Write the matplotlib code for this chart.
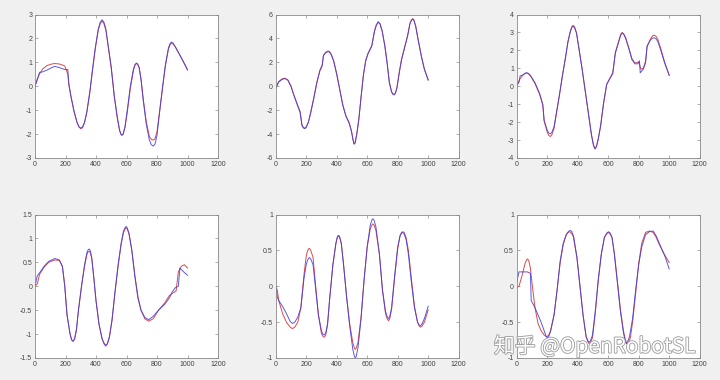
import matplotlib.pyplot as plt
import matplotlib.patheffects as pe

# ---- data (x, y pairs per series; r = red, b = blue) ----
x1 = [0, 15, 30, 50, 80, 110, 130, 160, 195, 215, 222, 235, 255, 275, 288, 300, 312, 325, 340, 360, 375, 395, 415, 428, 440, 452, 465, 480, 500, 520, 540, 555, 563, 570, 578, 590, 605, 625, 645, 655, 665, 673, 683, 695, 710, 730, 750, 762, 775, 787, 800, 815, 835, 855, 875, 885, 895, 905, 920, 950, 975, 1000]
y1b = [0, 0.3, 0.58, 0.6, 0.68, 0.78, 0.83, 0.78, 0.7, 0.7, 0.1, -0.4, -1.0, -1.5, -1.69, -1.75, -1.7, -1.5, -1.05, -0.2, 0.6, 1.6, 2.4, 2.68, 2.78, 2.68, 2.38, 1.7, 0.8, -0.4, -1.3, -1.85, -2.0, -2.05, -2.0, -1.7, -1.0, 0.0, 0.7, 0.9, 0.97, 0.93, 0.78, 0.3, -0.6, -1.6, -2.25, -2.44, -2.5, -2.42, -2.05, -1.2, -0.1, 0.9, 1.6, 1.78, 1.85, 1.8, 1.65, 1.3, 1.0, 0.68]
y1r = [0, 0.28, 0.52, 0.72, 0.87, 0.93, 0.95, 0.93, 0.85, 0.5, 0.05, -0.4, -1.05, -1.5, -1.7, -1.78, -1.73, -1.52, -1.1, -0.25, 0.55, 1.55, 2.35, 2.62, 2.72, 2.62, 2.33, 1.65, 0.75, -0.45, -1.35, -1.85, -2.0, -2.05, -2.0, -1.72, -1.1, -0.1, 0.65, 0.87, 0.95, 0.92, 0.78, 0.3, -0.55, -1.5, -2.1, -2.22, -2.25, -2.2, -1.9, -1.15, -0.15, 0.85, 1.55, 1.73, 1.8, 1.77, 1.65, 1.3, 1.0, 0.7]

x2 = [0, 20, 40, 60, 80, 100, 120, 140, 160, 172, 182, 192, 202, 215, 230, 250, 270, 290, 305, 313, 325, 335, 344, 353, 365, 380, 400, 420, 440, 460, 482, 497, 507, 514, 521, 532, 545, 560, 575, 590, 605, 630, 648, 660, 672, 684, 698, 715, 730, 745, 760, 770, 777, 785, 795, 810, 825, 845, 865, 880, 890, 898, 906, 918, 935, 955, 975, 1000]
y2b = [-0.2, 0.35, 0.55, 0.65, 0.5, 0.0, -0.8, -1.5, -2.2, -3.3, -3.5, -3.55, -3.4, -3.0, -2.2, -1.0, 0.3, 1.3, 1.7, 2.6, 2.75, 2.85, 2.9, 2.85, 2.6, 2.1, 1.0, -0.3, -1.6, -2.5, -3.1, -3.8, -4.5, -4.85, -4.75, -4.0, -2.8, -0.9, 0.9, 2.1, 2.7, 3.35, 4.6, 5.1, 5.35, 5.2, 4.6, 3.4, 2.0, 0.3, -0.5, -0.7, -0.72, -0.6, -0.15, 1.1, 2.2, 3.2, 4.2, 5.2, 5.5, 5.62, 5.52, 5.0, 3.8, 2.5, 1.4, 0.5]
y2r = [-0.1, 0.4, 0.6, 0.68, 0.52, 0.02, -0.75, -1.45, -2.1, -3.2, -3.45, -3.5, -3.35, -2.95, -2.15, -0.95, 0.35, 1.35, 1.8, 2.55, 2.8, 2.9, 2.95, 2.9, 2.65, 2.15, 1.05, -0.25, -1.55, -2.45, -3.05, -3.75, -4.45, -4.8, -4.7, -3.95, -2.75, -0.85, 0.95, 2.15, 2.75, 3.4, 4.65, 5.15, 5.4, 5.25, 4.65, 3.45, 2.05, 0.35, -0.45, -0.65, -0.68, -0.55, -0.1, 1.15, 2.25, 3.25, 4.25, 5.25, 5.55, 5.65, 5.55, 5.05, 3.85, 2.55, 1.45, 0.55]

x3b = [0, 18, 22, 40, 55, 65, 77, 90, 120, 150, 171, 180, 200, 210, 220, 230, 245, 260, 280, 300, 320, 336, 350, 360, 370, 380, 392, 410, 430, 450, 470, 490, 503, 513, 523, 535, 550, 570, 590, 608, 630, 647, 670, 682, 692, 703, 715, 735, 755, 775, 795, 805, 810, 830, 845, 855, 875, 888, 900, 912, 925, 945, 970, 1000]
y3b = [0, 0.3, 0.58, 0.62, 0.72, 0.75, 0.72, 0.6, 0.2, -0.4, -1.0, -1.9, -2.45, -2.6, -2.65, -2.58, -2.25, -1.5, -0.5, 0.6, 1.6, 2.5, 3.0, 3.25, 3.35, 3.25, 2.95, 2.0, 0.9, -0.3, -1.5, -2.7, -3.25, -3.48, -3.35, -2.9, -2.2, -0.9, 0.1, 0.38, 0.7, 1.85, 2.5, 2.85, 2.97, 2.88, 2.65, 2.1, 1.5, 1.25, 1.25, 1.42, 0.75, 0.95, 1.3, 2.25, 2.55, 2.67, 2.7, 2.66, 2.5, 2.0, 1.3, 0.62]
x3r = [0, 20, 40, 55, 65, 77, 90, 120, 150, 171, 180, 200, 210, 220, 230, 245, 260, 280, 300, 320, 336, 350, 360, 370, 380, 392, 410, 430, 450, 470, 490, 503, 513, 523, 535, 550, 570, 590, 608, 630, 647, 670, 682, 692, 703, 715, 735, 755, 775, 800, 815, 830, 845, 855, 875, 888, 900, 912, 925, 945, 970, 1000]
y3r = [0, 0.4, 0.62, 0.72, 0.74, 0.7, 0.58, 0.15, -0.45, -1.05, -1.95, -2.55, -2.74, -2.8, -2.72, -2.35, -1.55, -0.5, 0.6, 1.6, 2.45, 3.0, 3.3, 3.4, 3.3, 3.0, 2.0, 0.9, -0.3, -1.5, -2.7, -3.28, -3.5, -3.38, -2.95, -2.25, -0.95, 0.1, 0.4, 0.75, 1.9, 2.55, 2.9, 3.0, 2.9, 2.7, 2.15, 1.55, 1.3, 1.35, 0.95, 1.0, 1.4, 2.2, 2.6, 2.78, 2.85, 2.8, 2.62, 2.1, 1.35, 0.6]

x4b = [0, 15, 30, 60, 90, 130, 160, 180, 195, 210, 230, 240, 250, 260, 272, 285, 305, 325, 340, 348, 355, 363, 372, 385, 400, 420, 440, 455, 465, 475, 488, 505, 525, 545, 565, 580, 590, 597, 605, 617, 635, 655, 675, 695, 720, 745, 775, 810, 850, 880, 900, 920, 940, 950, 975, 1000]
y4b = [0, 0.22, 0.28, 0.42, 0.52, 0.58, 0.55, 0.4, 0.0, -0.6, -1.0, -1.12, -1.15, -1.1, -0.9, -0.5, 0.0, 0.45, 0.7, 0.76, 0.78, 0.74, 0.6, 0.2, -0.3, -0.8, -1.1, -1.22, -1.25, -1.2, -1.05, -0.7, -0.1, 0.45, 0.9, 1.15, 1.22, 1.25, 1.22, 1.1, 0.75, 0.2, -0.25, -0.5, -0.65, -0.7, -0.63, -0.5, -0.38, -0.25, -0.12, -0.03, 0.0, 0.38, 0.3, 0.23]
x4r = [0, 15, 30, 60, 90, 130, 160, 180, 195, 210, 230, 240, 250, 260, 272, 285, 305, 325, 340, 348, 355, 363, 372, 385, 400, 420, 440, 455, 465, 475, 488, 505, 525, 545, 565, 580, 590, 597, 605, 617, 635, 655, 675, 695, 720, 745, 775, 810, 850, 880, 900, 925, 940, 960, 980, 1000]
y4r = [0, 0.05, 0.25, 0.4, 0.5, 0.55, 0.54, 0.42, 0.02, -0.6, -1.0, -1.12, -1.15, -1.1, -0.9, -0.5, 0.0, 0.42, 0.66, 0.72, 0.73, 0.7, 0.58, 0.2, -0.3, -0.8, -1.1, -1.2, -1.23, -1.2, -1.07, -0.72, -0.12, 0.42, 0.88, 1.12, 1.19, 1.22, 1.2, 1.08, 0.75, 0.22, -0.22, -0.5, -0.68, -0.73, -0.68, -0.5, -0.35, -0.2, -0.15, -0.1, 0.3, 0.42, 0.45, 0.38]

x5 = [0, 10, 20, 45, 70, 95, 110, 125, 145, 165, 185, 200, 210, 220, 230, 245, 260, 280, 300, 310, 318, 328, 340, 355, 375, 395, 403, 410, 418, 430, 445, 465, 485, 505, 514, 521, 528, 540, 560, 580, 600, 620, 630, 637, 645, 657, 680, 700, 720, 732, 740, 748, 760, 780, 800, 815, 825, 833, 842, 855, 870, 890, 910, 930, 940, 948, 958, 975, 1000]
y5b = [0, -0.15, -0.2, -0.28, -0.38, -0.49, -0.52, -0.5, -0.43, -0.3, 0.1, 0.3, 0.37, 0.4, 0.38, 0.3, 0.0, -0.4, -0.62, -0.67, -0.68, -0.65, -0.52, -0.15, 0.3, 0.6, 0.67, 0.7, 0.69, 0.6, 0.3, -0.15, -0.55, -0.87, -0.96, -1.0, -0.98, -0.85, -0.45, 0.1, 0.55, 0.85, 0.92, 0.94, 0.92, 0.83, 0.45, -0.05, -0.35, -0.43, -0.45, -0.42, -0.3, 0.15, 0.55, 0.7, 0.74, 0.75, 0.73, 0.65, 0.45, 0.05, -0.3, -0.5, -0.54, -0.55, -0.53, -0.45, -0.28]
y5r = [0, -0.05, -0.2, -0.38, -0.5, -0.57, -0.59, -0.57, -0.5, -0.3, 0.15, 0.42, 0.5, 0.53, 0.5, 0.4, 0.05, -0.4, -0.66, -0.7, -0.71, -0.68, -0.54, -0.15, 0.3, 0.6, 0.68, 0.71, 0.7, 0.6, 0.3, -0.15, -0.52, -0.78, -0.85, -0.88, -0.86, -0.78, -0.42, 0.1, 0.55, 0.8, 0.85, 0.87, 0.85, 0.78, 0.45, -0.05, -0.38, -0.46, -0.48, -0.45, -0.32, 0.12, 0.52, 0.7, 0.75, 0.76, 0.75, 0.68, 0.5, 0.1, -0.28, -0.5, -0.55, -0.57, -0.56, -0.5, -0.33]

x6b = [0, 15, 40, 70, 90, 95, 120, 140, 160, 180, 192, 200, 210, 222, 245, 265, 285, 305, 325, 338, 350, 362, 375, 395, 415, 435, 455, 466, 475, 484, 497, 515, 535, 555, 575, 590, 602, 614, 625, 640, 660, 680, 700, 710, 718, 726, 740, 760, 780, 800, 820, 845, 870, 895, 915, 935, 955, 975, 1000]
y6b = [0.05, 0.2, 0.2, 0.2, 0.18, -0.2, -0.3, -0.4, -0.5, -0.62, -0.69, -0.72, -0.7, -0.63, -0.4, -0.05, 0.35, 0.6, 0.72, 0.76, 0.78, 0.76, 0.68, 0.4, 0.0, -0.4, -0.7, -0.76, -0.78, -0.76, -0.68, -0.35, 0.1, 0.45, 0.68, 0.74, 0.76, 0.74, 0.68, 0.45, 0.05, -0.35, -0.65, -0.75, -0.8, -0.78, -0.7, -0.45, -0.05, 0.3, 0.55, 0.72, 0.76, 0.77, 0.7, 0.6, 0.5, 0.4, 0.24]
x6r = [0, 15, 35, 55, 65, 72, 80, 90, 100, 120, 140, 160, 180, 192, 200, 210, 222, 245, 265, 285, 305, 325, 338, 345, 355, 370, 395, 415, 435, 455, 466, 475, 484, 497, 515, 535, 555, 575, 590, 600, 612, 625, 640, 660, 680, 700, 712, 722, 732, 745, 760, 780, 800, 820, 845, 870, 895, 915, 935, 955, 975, 1000]
y6r = [-0.02, 0.0, 0.15, 0.32, 0.37, 0.38, 0.35, 0.25, 0.05, -0.3, -0.52, -0.62, -0.68, -0.7, -0.7, -0.68, -0.62, -0.4, -0.05, 0.33, 0.58, 0.72, 0.75, 0.76, 0.75, 0.7, 0.4, 0.0, -0.4, -0.7, -0.77, -0.8, -0.78, -0.72, -0.38, 0.08, 0.45, 0.68, 0.73, 0.75, 0.73, 0.68, 0.47, 0.08, -0.32, -0.62, -0.74, -0.8, -0.79, -0.72, -0.5, -0.1, 0.32, 0.6, 0.75, 0.77, 0.75, 0.68, 0.58, 0.5, 0.42, 0.33]

ylims = [(-3, 3), (-6, 6), (-4, 4), (-1.5, 1.5), (-1, 1), (-1, 1)]
yticks = [[-3, -2, -1, 0, 1, 2, 3],
          [-6, -4, -2, 0, 2, 4, 6],
          [-4, -3, -2, -1, 0, 1, 2, 3, 4],
          [-1.5, -1, -0.5, 0, 0.5, 1, 1.5],
          [-1, -0.5, 0, 0.5, 1],
          [-1, -0.5, 0, 0.5, 1]]
xticks = [0, 200, 400, 600, 800, 1000, 1200]

series = [
    (x1, y1r, x1, y1b),
    (x2, y2r, x2, y2b),
    (x3r, y3r, x3b, y3b),
    (x4r, y4r, x4b, y4b),
    (x5, y5r, x5, y5b),
    (x6r, y6r, x6b, y6b),
]

plt.rcParams['font.family'] = ['Liberation Sans', 'DejaVu Sans']

fig = plt.figure(figsize=(7.2, 3.8), dpi=100, facecolor='#f0f0f0')
lefts = [35 / 720, 275.7 / 720, 516.7 / 720]
bottoms = [1 - 158 / 380, 1 - 358 / 380]
w, h = 183 / 720, 143.5 / 380

def fmt(v):
    return str(int(v)) if float(v).is_integer() else str(v)

for i, (xr, yr, xb, yb) in enumerate(series):
    ax = fig.add_axes([lefts[i % 3], bottoms[i // 3], w, h])
    ax.plot(xr, yr, color='#e04848', lw=0.7)
    ax.plot(xb, yb, color='#3c3cdc', lw=0.7, alpha=0.85)
    ax.set_xlim(0, 1200)
    ax.set_ylim(*ylims[i])
    ax.set_xticks(xticks)
    ax.set_xticklabels([fmt(t) for t in xticks])
    ax.set_yticks(yticks[i])
    ax.set_yticklabels([fmt(t) for t in yticks[i]])
    ax.tick_params(direction='in', length=2, width=0.5, top=True, right=True,
                   labelsize=5, colors='#8a8a8a', labelcolor='#444444', pad=2)
    for s in ax.spines.values():
        s.set_color('#8a8a8a')
        s.set_linewidth(0.6)

# watermark from the source screenshot
fig.text(0.686, 0.088, '知乎 @OpenRobotSL', fontsize=15, color='white',
         family=['Noto Sans CJK SC', 'DejaVu Sans'], va='center', ha='left',
         path_effects=[pe.withStroke(linewidth=1.2, foreground='#9a9a9a')])

fig.savefig('out.png', dpi=100, facecolor=fig.get_facecolor())
